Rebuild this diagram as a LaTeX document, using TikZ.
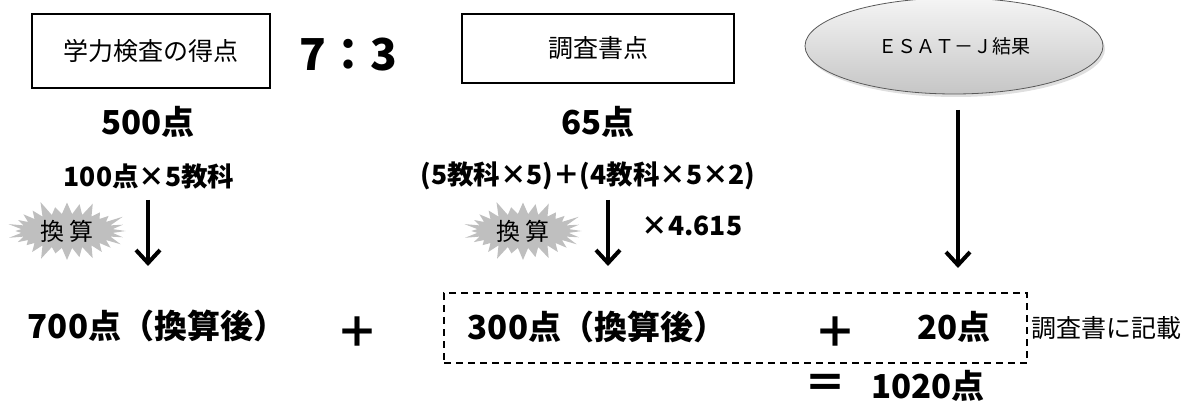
\documentclass[tikz,border=0pt]{standalone}
\usepackage{fontspec}
\setmainfont{Noto Sans CJK JP}
\usetikzlibrary{shapes,arrows.meta,shadows,positioning}

\tikzset{
  scorebox/.style={draw, line width=1.5pt, inner sep=0pt, font=\fontsize{25}{28}\selectfont},
  big/.style={font=\fontsize{33}{37}\selectfont\bfseries},
  mid/.style={font=\fontsize{26.5}{30}\selectfont\bfseries},
  opsign/.style={font=\fontsize{42}{46}\selectfont\bfseries},
  burst/.style={starburst, starburst points=28, starburst point height=16pt, fill=gray!50,
    inner sep=0pt, minimum width=124pt, minimum height=66pt, font=\fontsize{24}{26}\selectfont},
  downarrow/.style={line width=4pt, -{Straight Barb[length=13pt,width=24pt]}},
  dashbox/.style={draw, dash pattern=on 7pt off 5pt, line width=1.3pt, inner sep=0pt},
}

\begin{document}
\begin{tikzpicture}[x=1pt,y=-1pt]
\useasboundingbox (0,0) rectangle (1192,406);
% top row
\node[scorebox, minimum width=238pt, minimum height=74pt] (exam) at (151,51) {学力検査の得点};
\node[font=\fontsize{44}{48}\selectfont\bfseries] (ratio) at (348,55) {7：3};
\node[scorebox, minimum width=272pt, minimum height=69pt] (report) at (598,48.5) {調査書点};
\node[ellipse, draw=gray!70!black, line width=0.8pt, top color=gray!8, bottom color=gray!45,
  drop shadow={shadow xshift=2pt, shadow yshift=-3pt, opacity=0.25},
  minimum width=298pt, minimum height=96pt, font=\fontsize{19}{22}\selectfont] (esatj) at (954,46) {ＥＳＡＴ－Ｊ結果};
% raw scores
\node[big] (exam500) at (148,122) {500点};
\node[big] (report65) at (598,122) {65点};
\node[mid] (examsub) at (149,176) {100点×5教科};
\node[mid] (reportsub) at (588,176) {(5教科×5)＋(4教科×5×2)};
% conversion
\node[burst] (burst1) at (67,231) {換 算};
\node[burst] (burst2) at (523,231) {換 算};
\node[mid] (mult) at (692,226) {×4.615};
\coordinate (a1s) at (148,200);
\coordinate (a1e) at (148,266);
\coordinate (a2s) at (608,200);
\coordinate (a2e) at (608,266);
\coordinate (a3s) at (958,110);
\coordinate (a3e) at (958,268);
\draw[downarrow] (a1s) -- (a1e);
\draw[downarrow] (a2s) -- (a2e);
\draw[downarrow] (a3s) -- (a3e);
% totals
\node[big] (exam700) at (157,326) {700点（換算後）};
\node[opsign] (plus1) at (357,332) {＋};
\node[dashbox, minimum width=583pt, minimum height=70pt] (sumbox) at (735.5,328) {};
\node[big] (report300) at (597,327) {300点（換算後）};
\node[opsign] (plus2) at (835,332) {＋};
\node[big] (esat20) at (954,327) {20点};
\node[font=\fontsize{25}{28}\selectfont, right=0pt of sumbox] (note) {調査書に記載};
\node[opsign] (equals) at (825,386) {＝};
\node[big] (total) at (928,386) {1020点};
\end{tikzpicture}
\end{document}
